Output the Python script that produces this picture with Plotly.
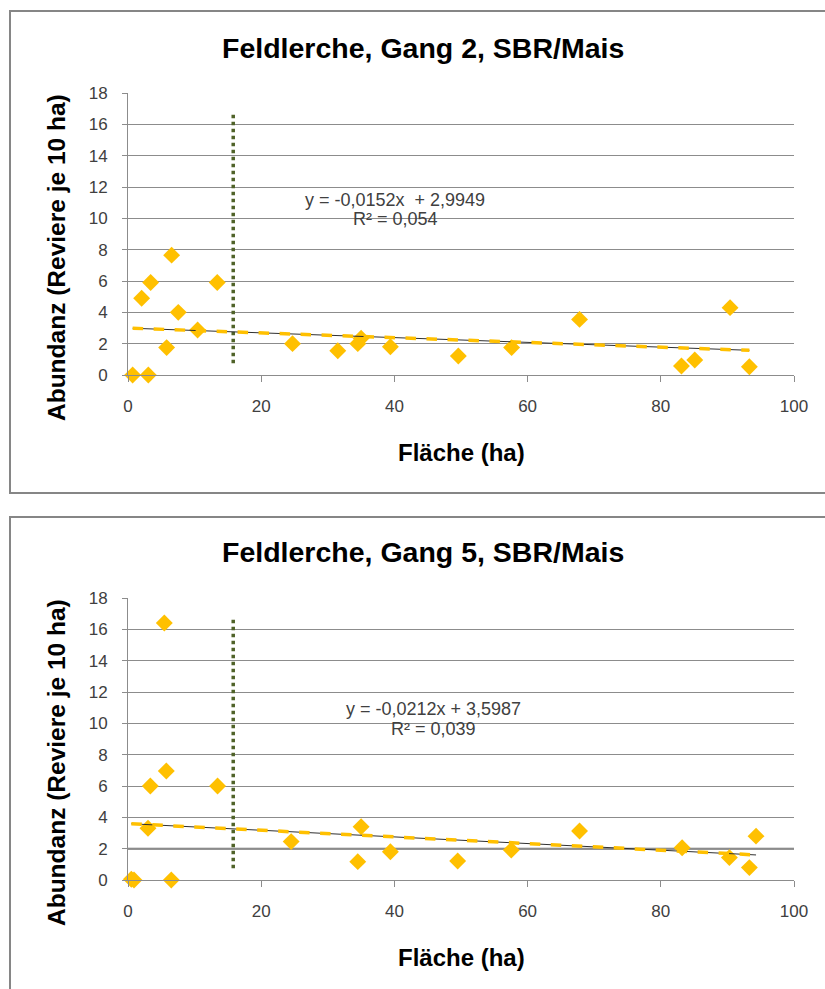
import plotly.graph_objects as go

# ---------------- data ----------------
titles = ["Feldlerche, Gang 2, SBR/Mais", "Feldlerche, Gang 5, SBR/Mais"]
x_title = "Fläche (ha)"
y_title = "Abundanz (Reviere je 10 ha)"

gang2_x = [0.7, 2.05, 3.4, 6.55, 3.05, 7.55, 5.8, 10.45, 13.4, 24.7, 31.5, 34.5, 35.0,
           39.4, 49.6, 57.6, 67.8, 83.1, 85.1, 90.4, 93.3]
gang2_y = [0.0, 4.9, 5.9, 7.65, 0.0, 4.0, 1.75, 2.87, 5.9, 2.0, 1.55, 2.0, 2.35,
           1.8, 1.21, 1.75, 3.55, 0.57, 0.96, 4.3, 0.53]

gang5_x = [0.5, 0.9, 3.35, 5.75, 3.0, 6.5, 5.45, 13.45, 24.5, 35.0, 34.5, 39.4,
           49.5, 57.55, 67.8, 83.2, 90.3, 93.3, 94.3]
gang5_y = [0.05, 0.0, 6.0, 6.96, 3.3, 0.0, 16.4, 6.0, 2.45, 3.4, 1.17, 1.8,
           1.21, 1.91, 3.13, 2.06, 1.43, 0.79, 2.8]

trend_slope = [-0.0152, -0.0212]
trend_intercept = [2.9949, 3.5987]
equations = ["y = -0,0152x  + 2,9949", "y = -0,0212x + 3,5987"]
r2_texts = ["R² = 0,054", "R² = 0,039"]

threshold_x = 15.8
threshold_y = [0.75, 16.7]

x_ticks = [0, 20, 40, 60, 80, 100]
y_ticks = [0, 2, 4, 6, 8, 10, 12, 14, 16, 18]

# ---------------- style ----------------
W, H = 825, 989
GOLD = "#FFC000"
GRID = "#8C8C8C"
TXT = "#404040"
FONT = "Liberation Sans, Arial, sans-serif"

fig = go.Figure()

series = [(gang2_x, gang2_y), (gang5_x, gang5_y)]
# pixel layout in window coordinates (top-left origin)
plot_left, plot_right = 128, 794
plot_tops = [93, 598]
plot_bottoms = [375, 880]
box_tops = [11, 517]
box_bottoms = [493, 1010]
title_y = [48, 552]
xtitle_y = [452, 957]
ytitle_y = [258, 763]
eq_pos = [(40.1, 11.17, 9.96), (45.9, 10.9, 9.64)]


def px_x(p):
    return p / W


def px_y(p):
    return 1 - p / H


for i, (xs, ys) in enumerate(series):
    xa = "x" if i == 0 else "x2"
    ya = "y" if i == 0 else "y2"
    fig.add_trace(go.Scatter(x=[threshold_x, threshold_x], y=threshold_y, mode="lines",
                             line=dict(color="#4F6228", width=3.5, dash="dot"),
                             xaxis=xa, yaxis=ya, showlegend=False, hoverinfo="skip"))
    fig.add_trace(go.Scatter(x=xs, y=ys, mode="markers",
                             marker=dict(symbol="diamond", size=13, color=GOLD,
                                         line=dict(width=0)),
                             cliponaxis=False,
                             xaxis=xa, yaxis=ya, showlegend=False))
    x0, x1 = min(xs), max(xs)
    tx = [x0, x1]
    ty = [trend_slope[i] * v + trend_intercept[i] for v in tx]
    fig.add_trace(go.Scatter(x=tx, y=ty, mode="lines",
                             line=dict(color="#303030", width=1),
                             xaxis=xa, yaxis=ya, showlegend=False, hoverinfo="skip"))
    fig.add_trace(go.Scatter(x=tx, y=ty, mode="lines",
                             line=dict(color=GOLD, width=3.5, dash="dash"),
                             xaxis=xa, yaxis=ya, showlegend=False, hoverinfo="skip"))

axis_common_x = dict(range=[0, 100], tickvals=x_ticks, showgrid=False, zeroline=False,
                     showline=True, linecolor=GRID, linewidth=1, ticks="outside",
                     ticklen=6, tickcolor=GRID, tickfont=dict(family=FONT, size=17, color=TXT),
                     ticklabelstandoff=10, fixedrange=True, automargin=False)
axis_common_y = dict(range=[0, 18], tickvals=y_ticks, showgrid=True, gridcolor=GRID,
                     gridwidth=1, zeroline=False, showline=True, linecolor=GRID, linewidth=1,
                     ticks="outside", ticklen=5, tickcolor=GRID,
                     tickfont=dict(family=FONT, size=17, color=TXT),
                     ticklabelstandoff=11, fixedrange=True, automargin=False)

fig.update_layout(
    xaxis=dict(domain=[px_x(plot_left), px_x(plot_right)], anchor="y", **axis_common_x),
    yaxis=dict(domain=[px_y(plot_bottoms[0]), px_y(plot_tops[0])], anchor="x", **axis_common_y),
    xaxis2=dict(domain=[px_x(plot_left), px_x(plot_right)], anchor="y2", **axis_common_x),
    yaxis2=dict(domain=[px_y(plot_bottoms[1]), px_y(plot_tops[1])], anchor="x2", **axis_common_y),
)

shapes = []
annotations = []
for i in range(2):
    shapes.append(dict(type="rect", xref="paper", yref="paper",
                       x0=px_x(10), x1=px_x(840), y0=px_y(box_bottoms[i]), y1=px_y(box_tops[i]),
                       line=dict(color="#868686", width=2), fillcolor="rgba(0,0,0,0)", layer="below"))
    annotations.append(dict(text=titles[i], xref="paper", yref="paper", x=px_x(423), y=px_y(title_y[i]),
                            xanchor="center", yanchor="middle", showarrow=False,
                            font=dict(family=FONT, size=28.5, color="#000000", weight="bold")))
    annotations.append(dict(text=f"<b>{x_title}</b>", xref="paper", yref="paper", x=px_x(461),
                            y=px_y(xtitle_y[i]), xanchor="center", yanchor="middle", showarrow=False,
                            font=dict(family=FONT, size=24, color="#000000")))
    annotations.append(dict(text=f"<b>{y_title}</b>", xref="paper", yref="paper", x=px_x(56),
                            y=px_y(ytitle_y[i]), xanchor="center", yanchor="middle", showarrow=False,
                            textangle=-90, font=dict(family=FONT, size=24.5, color="#000000")))
    xa = "x" if i == 0 else "x2"
    ya = "y" if i == 0 else "y2"
    ex, ey1, ey2 = eq_pos[i]
    annotations.append(dict(text=equations[i], xref=xa, yref=ya, x=ex, y=ey1, xanchor="center",
                            yanchor="middle", showarrow=False,
                            font=dict(family=FONT, size=18, color=TXT)))
    annotations.append(dict(text=r2_texts[i], xref=xa, yref=ya, x=ex, y=ey2, xanchor="center",
                            yanchor="middle", showarrow=False,
                            font=dict(family=FONT, size=18, color=TXT)))

shapes.append(dict(type="line", xref="x2", yref="y2", x0=0, x1=100, y0=2, y1=2,
                   line=dict(color="#707070", width=2), layer="below"))

fig.update_layout(
    width=W, height=H,
    margin=dict(l=0, r=0, t=0, b=0, autoexpand=False),
    paper_bgcolor="white", plot_bgcolor="white",
    shapes=shapes, annotations=annotations,
    showlegend=False,
)

fig.write_html(
    "out.html",
    config={"displayModeBar": False},
    post_script=(
        "document.body.style.margin='0';"
        "document.body.style.overflow='hidden';"
        "document.documentElement.style.overflow='hidden';"
    ),
)
